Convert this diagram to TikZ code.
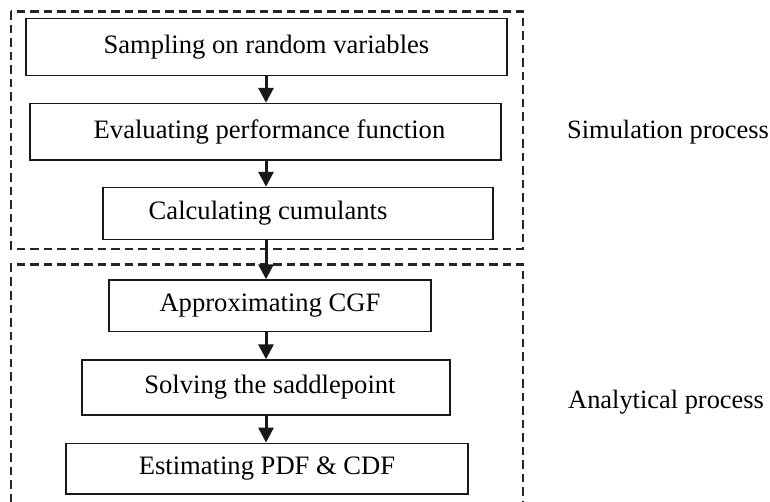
\documentclass[tikz,border=0pt]{standalone}
\usepackage{fontspec}
\setmainfont{Liberation Serif}
\usetikzlibrary{arrows.meta}
\begin{document}
\begin{tikzpicture}[x=1pt,y=-1pt,
  stepbox/.style={draw=black!90,line width=1.4pt,inner sep=0pt,font=\fontsize{26.6}{30}\selectfont},
  grp/.style={draw=black!85,line width=2.6pt,dash pattern=on 8.5pt off 5pt},
  arr/.style={draw=black!90,line width=3pt,-{Triangle[length=15pt,width=15pt]}},
  lbl/.style={anchor=west,inner sep=0pt,font=\fontsize{26.4}{30}\selectfont}]
\useasboundingbox (0,0) rectangle (770,502);
\fill[white] (0,0) rectangle (770,502);
\draw[grp] (11,11.5) rectangle (523,249);
\draw[grp] (11,502) -- (11,264.5) -- (523,264.5) -- (523,502);
\node[stepbox,minimum width=481pt,minimum height=57pt] (b1) at (266.4,47.1) {Sampling on random variables};
\node[stepbox,minimum width=471pt,minimum height=56.5pt] (b2) at (265.5,131.75) {\hspace{8pt}Evaluating performance function};
\node[stepbox,minimum width=390pt,minimum height=52pt] (b3) at (298,213.5) {\hspace{-60pt}Calculating cumulants};
\node[stepbox,minimum width=322pt,minimum height=51.7pt] (b4) at (270,305.85) {Approximating CGF};
\node[stepbox,minimum width=368pt,minimum height=55pt] (b5) at (266,387.5) {\hspace{8pt}Solving the saddlepoint};
\node[stepbox,minimum width=402pt,minimum height=50.7pt] (b6) at (267,468.65) {Estimating PDF \& CDF};
\coordinate (ax) at (266,0);
\draw[arr] (b1.south -| ax) -- (b2.north -| ax);
\draw[arr] (b2.south -| ax) -- (b3.north -| ax);
\draw[arr] (b3.south -| ax) -- (b4.north -| ax);
\draw[arr] (b4.south -| ax) -- (b5.north -| ax);
\draw[arr] (b5.south -| ax) -- (b6.north -| ax);
\node[lbl] (sim) at (567,132.5) {Simulation process};
\node[lbl] (ana) at (568,402) {Analytical process};
\end{tikzpicture}
\end{document}
